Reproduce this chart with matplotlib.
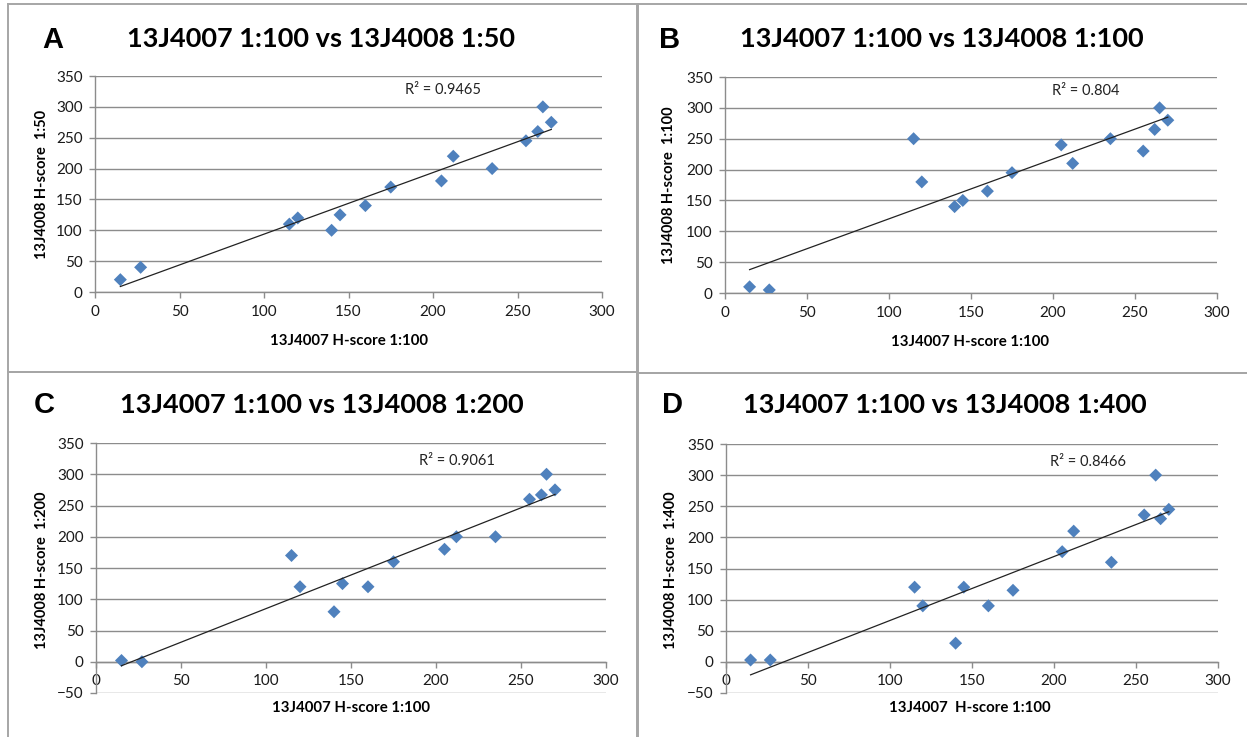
import numpy as np
import matplotlib
matplotlib.use("Agg")
import matplotlib.pyplot as plt
from matplotlib.lines import Line2D

# ---------------- data ----------------
x_4007 = [15, 27, 115, 120, 140, 145, 160, 175, 205, 212, 235, 255, 262, 265, 270]
x_4007_d = [15, 27, 115, 120, 140, 145, 160, 175, 205, 212, 235, 255, 265, 262, 270]

y_a_1_50 = [20, 40, 110, 120, 100, 125, 140, 170, 180, 220, 200, 245, 260, 300, 275]
y_b_1_100 = [10, 5, 250, 180, 140, 150, 165, 195, 240, 210, 250, 230, 265, 300, 280]
y_c_1_200 = [2, 0, 170, 120, 80, 125, 120, 160, 180, 200, 200, 260, 267, 300, 275]
y_d_1_400 = [3, 3, 120, 90, 30, 120, 90, 115, 177, 210, 160, 236, 230, 300, 245]

panel_letters = ["A", "B", "C", "D"]
titles = ["13J4007 1:100 vs 13J4008 1:50",
          "13J4007 1:100 vs 13J4008 1:100",
          "13J4007 1:100 vs 13J4008 1:200",
          "13J4007 1:100 vs 13J4008 1:400"]
xlabels = ["13J4007 H-score 1:100", "13J4007 H-score 1:100",
           "13J4007 H-score 1:100", "13J4007  H-score 1:100"]
ylabels = ["13J4008 H-score  1:50", "13J4008 H-score  1:100",
           "13J4008 H-score  1:200", "13J4008 H-score  1:400"]
r2_labels = ["R² = 0.9465", "R² = 0.804", "R² = 0.9061", "R² = 0.8466"]
y_mins = [0, 0, -50, -50]
y_max = 350
x_ticks = [0, 50, 100, 150, 200, 250, 300]

xs = [x_4007, x_4007, x_4007, x_4007_d]
ys = [y_a_1_50, y_b_1_100, y_c_1_200, y_d_1_400]

# ---------------- layout (pixel based) ----------------
W, H = 1247, 737
fig = plt.figure(figsize=(W / 100, H / 100), dpi=100)
fig.patch.set_facecolor("white")

def fx(px):
    return px / W

def fy(py):
    return 1 - py / H

# axes boxes: left, right, top(px of y_max), bottom(px of y_min)
boxes = [(95, 602, 76, 292), (725, 1217, 77, 293),
         (96, 606, 443, 693), (726, 1218, 444, 693)]
letter_pos = [(53, 40), (670, 40), (44, 405), (672, 405)]
title_pos = [(321, 39), (942, 39), (322, 405), (945, 405)]
xlabel_pos = [(349, 341), (970, 342), (351, 708), (970, 708)]
ylabel_pos = [(42, 184), (669, 185), (42, 570), (671, 570)]
r2_pos = [(443, 90), (1086, 91), (457, 461), (1088, 462)]

# panel borders
border_col = "#a6a6a6"
for (x0, x1, y0, y1) in [(8, 637, 4, 372), (638, 1250, 4, 373),
                         (8, 637, 372, 745), (638, 1250, 373, 745)]:
    xsq = [fx(x0), fx(x1), fx(x1), fx(x0), fx(x0)]
    ysq = [fy(y0), fy(y0), fy(y1), fy(y1), fy(y0)]
    fig.add_artist(Line2D(xsq, ysq, color=border_col, lw=1.4, transform=fig.transFigure))

grid_col = "#8c8c8c"
tick_col = "#1a1a1a"
marker_col = "#4F81BD"
base_font = "Lato"

for i in range(4):
    l, r, t, b = boxes[i]
    ax = fig.add_axes([fx(l), fy(b), (r - l) / W, (b - t) / H])
    x = np.array(xs[i], dtype=float)
    y = np.array(ys[i], dtype=float)
    ax.scatter(x, y, marker="D", s=44, color=marker_col, edgecolors="none", zorder=3)
    k, c = np.polyfit(x, y, 1)
    xl = np.array([x.min(), x.max()])
    ax.plot(xl, k * xl + c, color="#222222", lw=0.9, zorder=4)

    ax.set_xlim(0, 300)
    ax.set_ylim(y_mins[i], y_max)
    ax.set_xticks(x_ticks)
    ax.set_yticks(np.arange(y_mins[i], y_max + 1, 50))
    ax.yaxis.grid(True, color=grid_col, lw=1.0)
    ax.set_axisbelow(True)
    for s in ["top", "right"]:
        ax.spines[s].set_visible(False)
    ax.spines["left"].set_color(grid_col)
    ax.spines["bottom"].set_color(grid_col)
    ax.spines["left"].set_linewidth(1.0)
    ax.spines["bottom"].set_linewidth(1.0)
    ax.spines["bottom"].set_position(("data", 0))
    ax.tick_params(axis="both", direction="out", length=4, width=1.0, color=grid_col,
                   labelcolor=tick_col, labelsize=11, pad=5)
    for lab in ax.get_xticklabels() + ax.get_yticklabels():
        lab.set_fontfamily(base_font)
    ax.patch.set_alpha(0)

    fig.text(fx(letter_pos[i][0]), fy(letter_pos[i][1]), panel_letters[i],
             family="Liberation Sans", weight="bold", fontsize=21, ha="center", va="center")
    fig.text(fx(title_pos[i][0]), fy(title_pos[i][1]), titles[i],
             family=base_font, weight="bold", fontsize=19.5, ha="center", va="center")
    fig.text(fx(xlabel_pos[i][0]), fy(xlabel_pos[i][1]), xlabels[i],
             family=base_font, weight="bold", fontsize=10.8, ha="center", va="center")
    fig.text(fx(ylabel_pos[i][0]), fy(ylabel_pos[i][1]), ylabels[i],
             family=base_font, weight="bold", fontsize=10.5, ha="center", va="center",
             rotation=90)
    fig.text(fx(r2_pos[i][0]), fy(r2_pos[i][1]), r2_labels[i],
             family=base_font, fontsize=10.5, ha="center", va="center", color="#222222")

fig.savefig("out.png", dpi=100)
